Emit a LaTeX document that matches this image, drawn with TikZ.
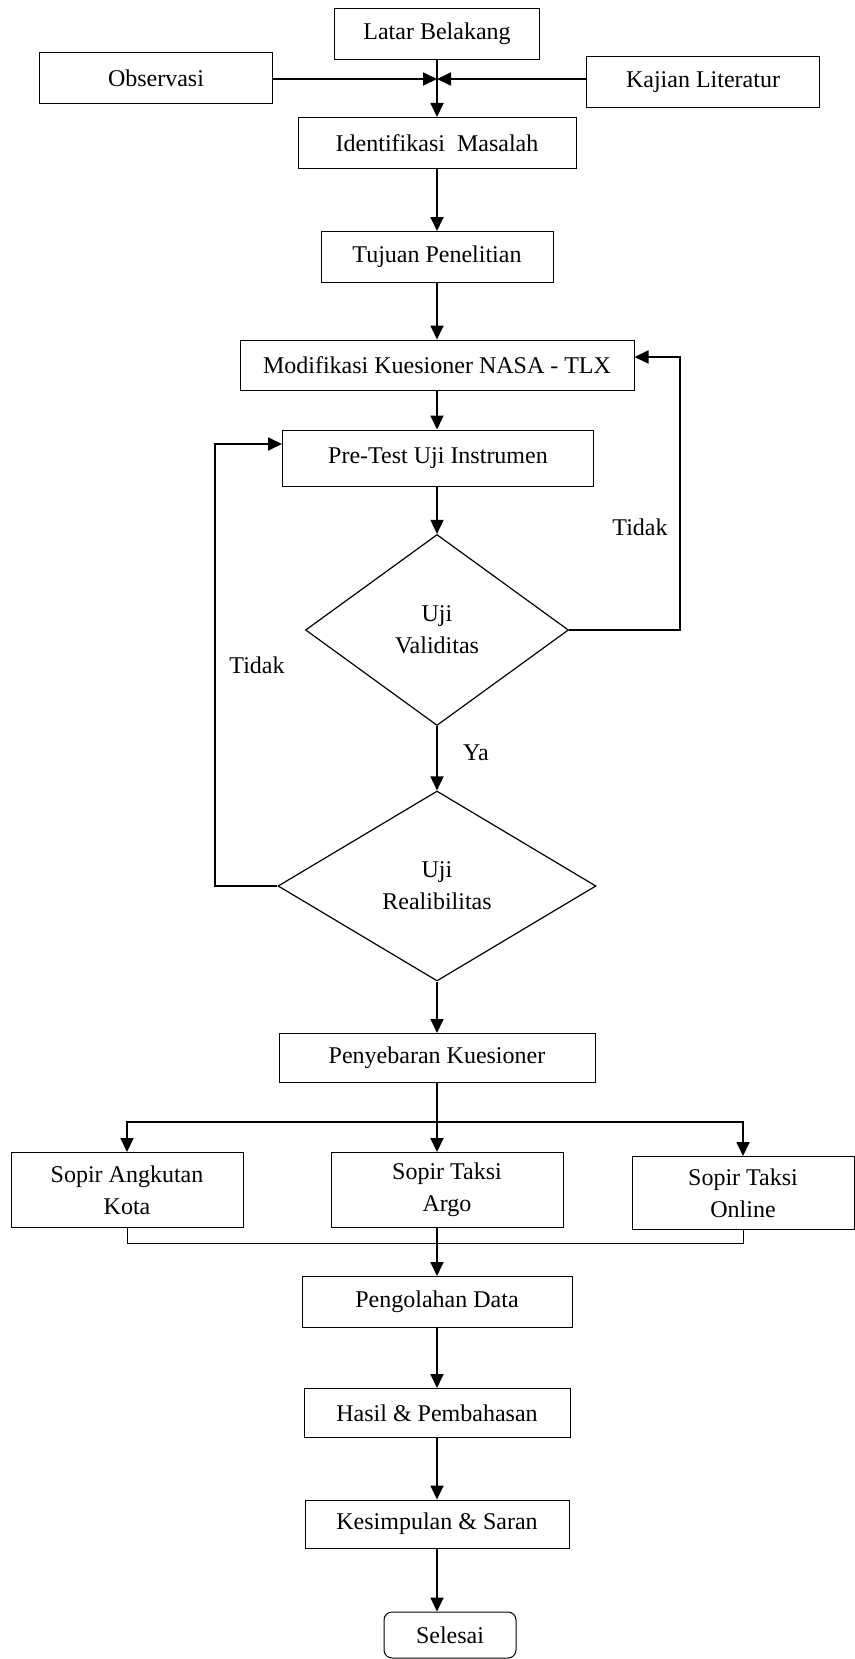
\documentclass[tikz,border=0pt]{standalone}
\usepackage{fontspec}
\setmainfont{Liberation Serif}
\usetikzlibrary{arrows.meta,shapes.geometric}

\begin{document}
\begin{tikzpicture}[x=0.5pt,y=-0.5pt,
  >={Triangle[length=7pt,width=6.5pt]},
  kotak/.style={draw,line width=0.5pt,minimum height=25.5pt,inner sep=2pt,align=center,
    font=\fontsize{12}{16}\selectfont},
  belah/.style={draw,line width=0.6pt,diamond,inner sep=0pt,align=center,
    font=\fontsize{12}{16}\selectfont},
  panah/.style={line width=0.9pt,->},
  ket/.style={font=\fontsize{12}{14}\selectfont}]
 \useasboundingbox (0,0) rectangle (855,1659);
 % kotak-kotak
 \node[kotak,minimum width=102.5pt] (latar) at (437,34) {Latar Belakang};
 \node[kotak,minimum width=116.5pt] (obs) at (156,78) {Observasi};
 \node[kotak,minimum width=116.5pt] (kajian) at (703,82) {Kajian Literatur};
 \node[kotak,minimum width=139pt] (identifikasi) at (437,143) {Identifikasi\ \ Masalah};
 \node[kotak,minimum width=116pt] (tujuan) at (437,257) {Tujuan Penelitian};
 \node[kotak,minimum width=197pt,minimum height=25pt] (modif) at (437,365) {Modifikasi Kuesioner NASA - TLX};
 \node[kotak,minimum width=155.5pt,minimum height=28pt] (pretest) at (438,458) {Pre-Test Uji Instrumen};
 \node[belah,minimum width=131.5pt,minimum height=95.5pt] (validitas) at (437,630) {Uji\\Validitas};
 \node[belah,minimum width=159pt,minimum height=95pt] (realibilitas) at (437,886) {Uji\\Realibilitas};
 \node[kotak,minimum width=158pt,minimum height=24.5pt] (penyebaran) at (437,1058) {Penyebaran Kuesioner};
 \node[kotak,minimum width=116pt,minimum height=37.5pt] (angkutan) at (127,1190) {Sopir Angkutan\\Kota};
 \node[kotak,minimum width=116pt,minimum height=37.5pt] (argo) at (447,1190) {Sopir Taksi\\Argo};
 \node[kotak,minimum width=111pt,minimum height=36.5pt] (online) at (743,1193) {Sopir Taksi\\Online};
 \node[kotak,minimum width=135pt] (pengolahan) at (437,1302) {Pengolahan Data};
 \node[kotak,minimum width=133pt,minimum height=24.5pt] (hasil) at (437,1413) {Hasil \& Pembahasan};
 \node[kotak,minimum width=132pt,minimum height=24pt] (kesimpulan) at (437,1524) {Kesimpulan \& Saran};
 \node[kotak,rounded corners=4pt,minimum width=66pt,minimum height=23pt] (selesai) at (450,1635) {Selesai};

 % titik bantu
 \coordinate (temu) at (437,79); %pertemuan atas
 \coordinate (kanan) at (680,357); %balik kanan
 \coordinate (kiri) at (215,444); %balik kiri
 \coordinate (cabang) at (437,1122); %cabang sopir
 \coordinate (gabung) at (437,1243); %gabung sopir

 % panah
 \draw[panah] (latar.south) -- (identifikasi.north);
 \draw[panah] (obs.east |- temu) -- (temu);
 \draw[panah] (kajian.west |- temu) -- (temu);
 \draw[panah] (identifikasi) -- (tujuan);
 \draw[panah] (tujuan) -- (modif);
 \draw[panah] (modif) -- (modif |- pretest.north);
 \draw[panah] (modif |- pretest.south) -- (validitas);
 \draw[panah] (validitas.east) -| (kanan) -- (modif.east |- kanan);
 \draw[panah] (validitas) -- (realibilitas);
 \draw[panah] (realibilitas.west) -| (kiri) -- (pretest.west |- kiri);
 \draw[panah] (realibilitas) -- (penyebaran);
 \draw[panah] (penyebaran.south) -- (penyebaran.south |- argo.north);
 \draw[panah] (cabang) -| (angkutan.north);
 \draw[panah] (cabang) -| (online.north);
 \draw[line width=0.5pt] (angkutan.south) |- (gabung) -| (online.south);
 \draw[panah] (pengolahan.north |- argo.south) -- (pengolahan.north);
 \draw[panah] (pengolahan) -- (hasil);
 \draw[panah] (hasil) -- (kesimpulan);
 \draw[panah] (kesimpulan.south) -- (kesimpulan.south |- selesai.north);

 % label
 \node[ket] (tidak1) at (640,527) {Tidak};
 \node[ket] (tidak2) at (257,665) {Tidak};
 \node[ket] (ya) at (476,753) {Ya};
\end{tikzpicture}
\end{document}
